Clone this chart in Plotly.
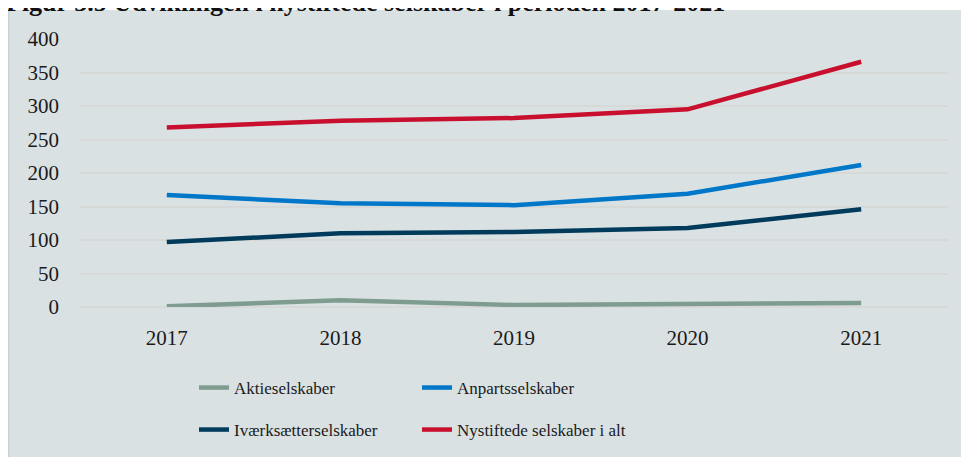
import plotly.graph_objects as go

years = ["2017", "2018", "2019", "2020", "2021"]
aktieselskaber = [1, 10, 3, 4, 6]
anpartsselskaber = [167, 155, 152, 169, 212]
ivaerksaetterselskaber = [97, 110, 112, 118, 146]
nystiftede_i_alt = [268, 278, 282, 295, 366]

series = [
    ("Aktieselskaber", aktieselskaber, "#7F9C90", "legend"),
    ("Anpartsselskaber", anpartsselskaber, "#0077C8", "legend"),
    ("Iværksætterselskaber", ivaerksaetterselskaber, "#003B5C", "legend2"),
    ("Nystiftede selskaber i alt", nystiftede_i_alt, "#C8102E", "legend2"),
]

# the page body adds an 8px offset; target pixel positions are given in page coordinates
OFF = 8
W, H = 969, 457
ML = 80 - OFF
MT = 39 - OFF
MR = W - (948 - OFF)
MB = H - (307 - OFF)
PW, PH = W - ML - MR, H - MT - MB

def px_x(p):
    return (p - OFF - ML) / PW

def px_y(p):
    return (H - MB - (p - OFF)) / PH

FONT = "Liberation Serif"
BG = "#DAE1E3"
GRID = "#D7D8D8"

fig = go.Figure()
for name, vals, color, lg in series:
    fig.add_trace(go.Scatter(
        x=years, y=vals, name=name, mode="lines",
        line=dict(color=color, width=4.5),
        legend=lg,
    ))

legend_common = dict(
    orientation="h", xanchor="left", yanchor="middle",
    font=dict(family=FONT, size=17, color="#1a1a1a"),
    bgcolor="rgba(0,0,0,0)", entrywidth=178, entrywidthmode="pixels",
    itemclick=False, itemdoubleclick=False,
)

fig.update_layout(
    width=W, height=H,
    margin=dict(l=ML, r=MR, t=MT, b=MB, pad=0, autoexpand=False),
    paper_bgcolor="white",
    plot_bgcolor="rgba(0,0,0,0)",
    font=dict(family=FONT, color="#1a1a1a"),
    showlegend=True,
    legend=dict(x=px_x(194), y=px_y(388), **legend_common),
    legend2=dict(x=px_x(194), y=px_y(430), **legend_common),
    xaxis=dict(
        type="category", range=[-0.5, 4.5], showgrid=False, zeroline=False,
        showline=False, ticks="", tickfont=dict(size=21, family=FONT, color="#1a1a1a"),
        ticklabelstandoff=16,
    ),
    yaxis=dict(
        range=[0, 400], dtick=50, tick0=0, showgrid=True, gridcolor=GRID,
        gridwidth=1.5, zeroline=True, zerolinecolor=GRID, zerolinewidth=1.5,
        showline=False, ticks="", tickfont=dict(size=21, family=FONT, color="#1a1a1a"),
        ticklabelstandoff=20,
    ),
    shapes=[
        dict(type="rect", xref="paper", yref="paper",
             x0=px_x(8), x1=px_x(W + 20), y0=px_y(H + 20), y1=px_y(10),
             fillcolor=BG, line=dict(width=0), layer="below"),
        dict(type="line", xref="paper", yref="paper",
             x0=px_x(8.75), x1=px_x(8.75), y0=px_y(H + 20), y1=px_y(10),
             line=dict(color="#CCD2D4", width=1.5), layer="below"),
    ],
    annotations=[
        dict(text="<b>Figur 3.5 Udviklingen i nystiftede selskaber i perioden 2017-2021</b>",
             xref="paper", yref="paper", x=px_x(4), y=px_y(19),
             xanchor="left", yanchor="bottom", showarrow=False,
             font=dict(family=FONT, size=26, color="#111111")),
    ],
)

fig.write_html("out.html")
